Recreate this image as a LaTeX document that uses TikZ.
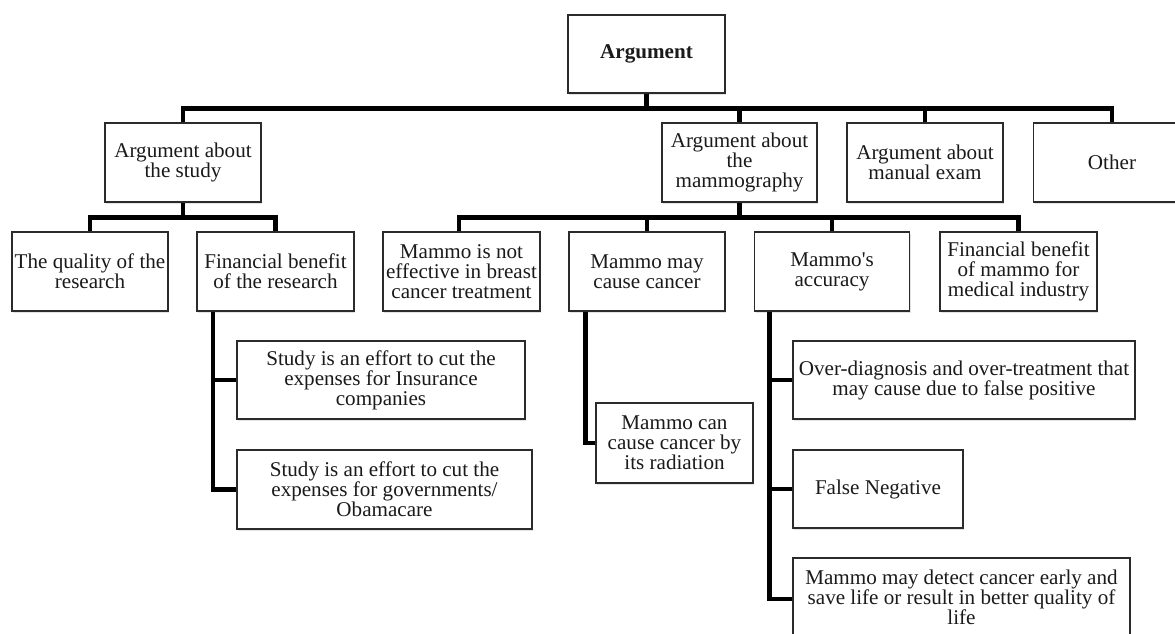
\documentclass[tikz,border=0pt]{standalone}
\usepackage{fontspec}
\setmainfont{Liberation Serif}[FakeStretch=1.005]
\usetikzlibrary{shadows}
\definecolor{txt}{HTML}{1A1A1A}
\definecolor{bord}{HTML}{2B2B2B}
\tikzset{
  box/.style={draw=bord, line width=1.2pt, fill=white, align=center, inner sep=1pt,
    text=txt, font=\fontsize{21}{20}\selectfont,
    drop shadow={shadow xshift=1.2pt, shadow yshift=-1.6pt, opacity=0.22}},
  conn/.style={line width=4.6pt, line join=miter, draw=black}
}
\begin{document}
\begin{tikzpicture}[x=1pt, y=-1pt]
\useasboundingbox (0,0) rectangle (1175,633);
\clip (0,0) rectangle (1175,633);
\fill[white] (0,0) rectangle (1175,633);

% level 0
\node[box, minimum width=157pt, minimum height=78pt] (root) at (646.5,54) {\bfseries Argument};
% level 1
\node[box, minimum width=156pt, minimum height=79pt] (study) at (183,162.5) {Argument about\\the study};
\node[box, minimum width=155pt, minimum height=79pt] (mammog) at (739.5,162.5) {Argument about\\the\\mammography};
\node[box, minimum width=156pt, minimum height=79pt] (manual) at (925,162.5) {Argument about\\manual exam};
\node[box, minimum width=157pt, minimum height=79pt] (other) at (1112,162.5) {Other};
% level 2
\node[box, minimum width=156pt, minimum height=79pt] (quality) at (90,271.5) {The quality of the\\research};
\node[box, minimum width=157pt, minimum height=79pt] (finben) at (275.5,271.5) {Financial benefit\\of the research};
\node[box, minimum width=157pt, minimum height=79pt] (noteff) at (461.5,271.5) {Mammo is not\\effective in breast\\cancer treatment};
\node[box, minimum width=156pt, minimum height=79pt] (maycause) at (647,271.5) {Mammo may\\cause cancer};
\node[box, minimum width=155pt, minimum height=79pt] (accuracy) at (832,271.5) {Mammo\textquotesingle s\\accuracy};
\node[box, minimum width=157pt, minimum height=79pt] (finmammo) at (1018.5,271.5) {Financial benefit\\of mammo for\\medical industry};
% level 3
\node[box, minimum width=288pt, minimum height=78pt] (insurance) at (381,380) {Study is an effort to cut the\\expenses for Insurance\\companies};
\node[box, minimum width=295pt, minimum height=79pt] (obama) at (384.5,489.5) {Study is an effort to cut the\\expenses for governments/\\Obamacare};
\node[box, minimum width=157pt, minimum height=80pt] (mammocan) at (674.5,443) {Mammo can\\cause cancer by\\its radiation};
\node[box, minimum width=342pt, minimum height=78pt] (overdiag) at (964,380) {Over-diagnosis and over-treatment that\\may cause due to false positive};
\node[box, minimum width=170pt, minimum height=78pt] (falseneg) at (878,489) {False Negative};
\node[box, minimum width=337pt, minimum height=79pt] (detect) at (961.5,597.5) {Mammo may detect cancer early and\\save life or result in better quality of\\life};

% connectors level 0 -> 1
\draw[conn] (root.south) -- ++(0,15) -| (study.north);
\draw[conn] (root.south) -- ++(0,15) -| (mammog.north);
\draw[conn] (root.south) -- ++(0,15) -| (manual.north);
\draw[conn] (root.south) -- ++(0,15) -| (other.north);
% study -> children
\draw[conn] (study.south) -- ++(0,15) -| (quality.north);
\draw[conn] (study.south) -- ++(0,15) -| (finben.north);
% mammography -> children
\draw[conn] (mammog.south) -- ++(0,15) -| ([xshift=-2.5pt]noteff.north);
\draw[conn] (mammog.south) -- ++(0,15) -| (maycause.north);
\draw[conn] (mammog.south) -- ++(0,15) -| (accuracy.north);
\draw[conn] (mammog.south) -- ++(0,15) -| (finmammo.north);
% side branches
\draw[conn] ([xshift=16.5pt]finben.south west) |- (insurance.west);
\draw[conn] ([xshift=16.5pt]finben.south west) |- (obama.west);
\draw[conn] ([xshift=17pt]maycause.south west) |- (mammocan.west);
\draw[conn] ([xshift=15.5pt]accuracy.south west) |- (overdiag.west);
\draw[conn] ([xshift=15.5pt]accuracy.south west) |- (falseneg.west);
\draw[conn] ([xshift=15.5pt]accuracy.south west) |- ([yshift=-1.5pt]detect.west);
\end{tikzpicture}
\end{document}
